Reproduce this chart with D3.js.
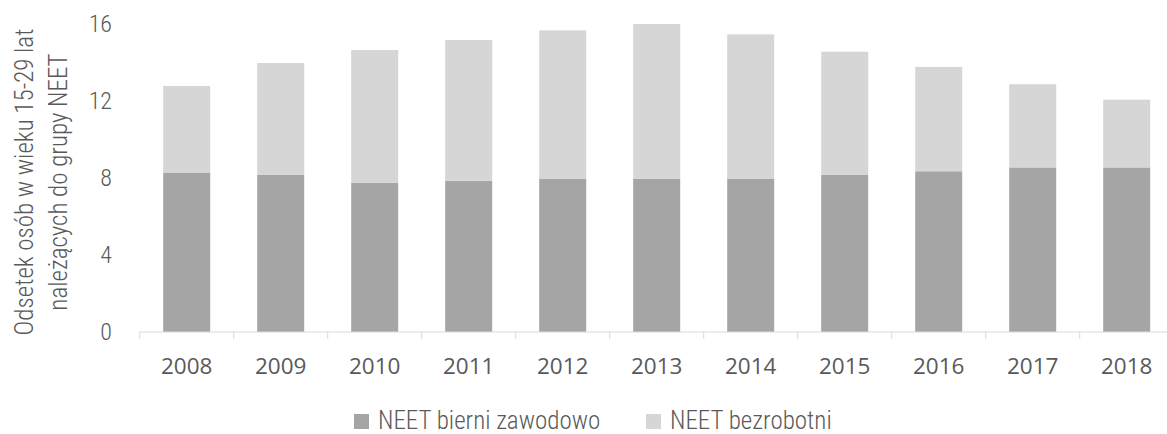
<!DOCTYPE html>
<html>
<head>
<meta charset="utf-8">
<script src="https://cdn.jsdelivr.net/npm/d3@7"></script>
<style>
  body { margin: 0; background: #fff; }
  .cond { font-family: "Roboto Condensed", Roboto, sans-serif; font-weight: 300; fill: #595959; }
  .yr { font-family: "Open Sans", sans-serif; fill: #595959; }
</style>
</head>
<body>
<div id="chart"></div>
<script>
const years = ["2008", "2009", "2010", "2011", "2012", "2013", "2014", "2015", "2016", "2017", "2018"];
const bierni = [8.26, 8.17, 7.76, 7.86, 7.97, 7.97, 7.97, 8.17, 8.35, 8.55, 8.55];
const bezrobotni = [4.52, 5.80, 6.89, 7.31, 7.70, 8.03, 7.49, 6.39, 5.42, 4.32, 3.52];
const seriesNames = ["NEET bierni zawodowo", "NEET bezrobotni"];
const seriesColors = ["#a5a5a5", "#d6d6d6"];
const yTicks = [0, 4, 8, 12, 16];
const yTitle = ["Odsetek osób w wieku 15-29 lat", "należących do grupy NEET"];

const width = 1167, height = 434;

let svg = d3.select("#chart").append("svg")
    .attr("width", width)
    .attr("height", height);

let x = d3.scaleBand()
    .domain(years)
    .range([139.7, 1173.7])
    .paddingInner(0.5)
    .paddingOuter(0.25);

let y = d3.scaleLinear()
    .domain([0, 16])
    .range([332, 24]);

let rows = years.map((yr, i) => ({ year: yr, bierni: bierni[i], bezrobotni: bezrobotni[i] }));
let stacked = d3.stack().keys(["bierni", "bezrobotni"])(rows);

// bars
svg.append("g").selectAll("g")
    .data(stacked)
    .enter().append("g")
    .attr("fill", (d, i) => seriesColors[i])
    .selectAll("rect")
    .data(d => d)
    .enter().append("rect")
    .attr("x", d => x(d.data.year))
    .attr("width", x.bandwidth())
    .attr("y", d => y(d[1]))
    .attr("height", d => y(d[0]) - y(d[1]));

// x axis with ticks between the categories
let step = x.step();
let xAxis = svg.append("g")
    .attr("transform", `translate(0,${y(0)})`);
xAxis.append("line")
    .attr("x1", x.range()[0]).attr("x2", x.range()[1])
    .attr("stroke", "#d9d9d9").attr("stroke-width", 1);
xAxis.selectAll(".tk")
    .data(d3.range(years.length + 1))
    .enter().append("line")
    .attr("class", "tk")
    .attr("x1", i => x.range()[0] + i * step)
    .attr("x2", i => x.range()[0] + i * step)
    .attr("y1", 0).attr("y2", 7)
    .attr("stroke", "#d9d9d9");
xAxis.selectAll("text")
    .data(years)
    .enter().append("text")
    .attr("class", "yr")
    .attr("x", d => x(d) + x.bandwidth() / 2)
    .attr("y", 42)
    .attr("text-anchor", "middle")
    .attr("font-size", 22.5)
    .text(d => d);

// y labels
svg.append("g").selectAll("text")
    .data(yTicks)
    .enter().append("text")
    .attr("class", "cond")
    .attr("x", 112)
    .attr("y", d => y(d))
    .attr("dy", "0.35em")
    .attr("text-anchor", "end")
    .attr("font-size", 24)
    .text(d => d);

// y title, two lines
svg.append("g").selectAll("text")
    .data(yTitle)
    .enter().append("text")
    .attr("class", "cond")
    .attr("transform", (d, i) => `translate(${33 + i * 34},182) rotate(-90)`)
    .attr("text-anchor", "middle")
    .attr("font-size", 25)
    .text(d => d);

// legend
let legendX = [354, 646];
let legend = svg.append("g").selectAll("g")
    .data(seriesNames)
    .enter().append("g")
    .attr("transform", (d, i) => `translate(${legendX[i]},414)`);
legend.append("rect")
    .attr("width", 15).attr("height", 15)
    .attr("fill", (d, i) => seriesColors[i]);
legend.append("text")
    .attr("class", "cond")
    .attr("x", 24)
    .attr("y", 15)
    .attr("font-size", 25)
    .text(d => d);
</script>
</body>
</html>
